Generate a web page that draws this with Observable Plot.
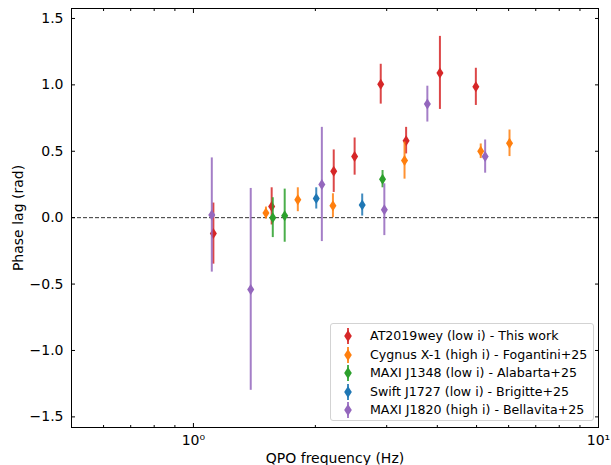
<!DOCTYPE html>
<html><head><meta charset="utf-8">
<script src="https://cdn.jsdelivr.net/npm/d3@7"></script>
<script src="https://cdn.jsdelivr.net/npm/@observablehq/plot@0.6"></script>
<style>
body{margin:0;background:#fff;font-family:"DejaVu Sans",sans-serif;}
#wrap{position:relative;width:611px;height:465px;overflow:hidden;}
#legend{position:absolute;left:330px;top:323px;width:264px;height:98px;border:1px solid #d3d3d3;border-radius:3px;background:rgba(255,255,255,0.8);box-sizing:border-box;font-size:12.6px;color:#000;}
.row{position:absolute;left:0;height:18px;line-height:18px;white-space:nowrap;}
.row svg{position:absolute;left:8px;top:0;}
.row span{position:absolute;left:39px;top:0;}
</style></head><body><div id="wrap"><div id="plot"></div><div id="legend"></div></div>
<script>
// Series names and colours
const seriesNames = [
  "AT2019wey (low i) - This work",
  "Cygnus X-1 (high i) - Fogantini+25",
  "MAXI J1348 (low i) - Alabarta+25",
  "Swift J1727 (low i) - Brigitte+25",
  "MAXI J1820 (high i) - Bellavita+25"
];
const seriesColors = ["#d62728", "#ff7f0e", "#2ca02c", "#1f77b4", "#9467bd"];

// AT2019wey
const at2019Freq = [1.12, 1.56, 2.22, 2.50, 2.90, 3.35, 4.06, 4.98];
const at2019Lag  = [-0.12, 0.085, 0.35, 0.46, 1.005, 0.58, 1.09, 0.985];
const at2019Err  = [0.23, 0.14, 0.16, 0.14, 0.15, 0.10, 0.275, 0.14];
// Cygnus X-1
const cygFreq = [1.51, 1.81, 2.21, 3.32, 5.12, 6.03];
const cygLag  = [0.035, 0.135, 0.09, 0.43, 0.50, 0.56];
const cygErr  = [0.045, 0.09, 0.09, 0.14, 0.055, 0.10];
// MAXI J1348
const j1348Freq = [1.57, 1.68, 2.93];
const j1348Lag  = [0.0, 0.015, 0.29];
const j1348Err  = [0.15, 0.20, 0.065];
// Swift J1727
const j1727Freq = [2.01, 2.61];
const j1727Lag  = [0.145, 0.095];
const j1727Err  = [0.08, 0.083];
// MAXI J1820
const j1820Freq = [1.11, 1.385, 2.075, 2.96, 3.78, 5.25];
const j1820Lag  = [0.02, -0.54, 0.25, 0.06, 0.855, 0.46];
const j1820Err  = [0.43, 0.76, 0.43, 0.195, 0.135, 0.125];

// Tick values
const xMajorTicks = [1, 10];
const xMinorTicks = [0.5, 0.6, 0.7, 0.8, 0.9, 2, 3, 4, 5, 6, 7, 8, 9];
const yTicks = [-1.5, -1.0, -0.5, 0.0, 0.5, 1.0, 1.5];
const xTickLabels = {1: "10\u2070", 10: "10\u00b9"};

const seriesData = [
  [at2019Freq, at2019Lag, at2019Err],
  [cygFreq, cygLag, cygErr],
  [j1348Freq, j1348Lag, j1348Err],
  [j1727Freq, j1727Lag, j1727Err],
  [j1820Freq, j1820Lag, j1820Err]
];

const thinDiamond = {
  draw(ctx, size) {
    const r = Math.sqrt(size / Math.PI);
    const w = r * 0.64;
    ctx.moveTo(0, -r); ctx.lineTo(w, 0); ctx.lineTo(0, r); ctx.lineTo(-w, 0); ctx.closePath();
  }
};

const seriesMarks = seriesData.flatMap(([fs, ls, es], i) => {
  const rows = fs.map((f, j) => ({series: seriesNames[i], f, lag: ls[j], err: es[j]}));
  return [
    Plot.ruleX(rows, {x: "f", y1: d => d.lag - d.err, y2: d => d.lag + d.err, stroke: "series", strokeWidth: 2, strokeOpacity: 0.85}),
    Plot.dot(rows, {x: "f", y: "lag", fill: "series", stroke: "none", symbol: thinDiamond, r: 5.5})
  ];
});

const blank = () => "";
const plot = Plot.plot({
  width: 611, height: 465,
  marginLeft: 71, marginRight: 13, marginTop: 8, marginBottom: 38,
  style: {fontFamily: "DejaVu Sans", fontSize: "14px", color: "black", background: "white", overflow: "visible"},
  x: {type: "log", domain: [0.5, 10]},
  y: {domain: [-1.58, 1.575]},
  color: {domain: seriesNames, range: seriesColors},
  marks: [
    Plot.ruleY([0], {stroke: "#333", strokeDasharray: "4,2", strokeWidth: 1}),
    ...seriesMarks,
    Plot.frame({stroke: "black"}),
    Plot.axisX(xMajorTicks, {anchor: "bottom", tickSize: -4, tickPadding: 12, fontSize: 14, tickFormat: d => xTickLabels[d], label: "QPO frequency (Hz)", labelAnchor: "center", labelOffset: 35, labelArrow: "none"}),
    Plot.axisX(xMinorTicks, {anchor: "bottom", tickSize: -2, tickFormat: blank, label: null}),
    Plot.axisX(xMajorTicks, {anchor: "top", tickSize: -4, tickFormat: blank, label: null}),
    Plot.axisX(xMinorTicks, {anchor: "top", tickSize: -2, tickFormat: blank, label: null}),
    Plot.axisY(yTicks, {anchor: "left", tickSize: -4, tickPadding: 12, fontSize: 14, tickFormat: d3.format(".1f"), label: "Phase lag (rad)", labelAnchor: "center", labelOffset: 58, labelArrow: "none"}),
    Plot.axisY(yTicks, {anchor: "right", tickSize: -4, tickFormat: blank, label: null})
  ]
});
document.getElementById("plot").appendChild(plot);

// Legend
const legend = document.getElementById("legend");
seriesNames.forEach((name, i) => {
  const row = document.createElement("div");
  row.className = "row";
  row.style.top = (3 + i * 18.5) + "px";
  row.style.width = "100%";
  const c = seriesColors[i];
  row.innerHTML = `<svg width="18" height="18"><line x1="9" x2="9" y1="1" y2="17" stroke="${c}" stroke-width="2" stroke-opacity="0.85"/><path d="M9,3L12.8,9L9,15L5.2,9Z" fill="${c}"/></svg><span>${name}</span>`;
  legend.appendChild(row);
});
</script>
</body></html>
